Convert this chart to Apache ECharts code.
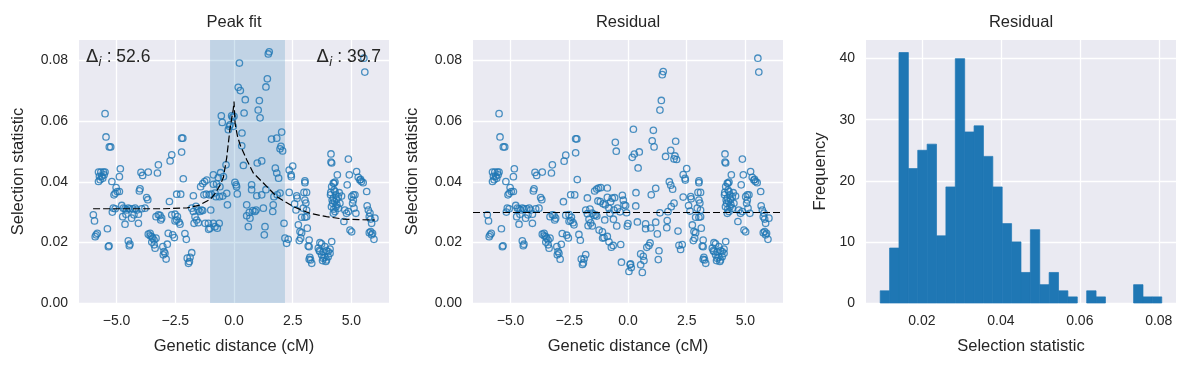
<!DOCTYPE html>
<html>
<head>
<meta charset="utf-8">
<script src="https://cdn.jsdelivr.net/npm/echarts@6/dist/echarts.min.js"></script>
<style>html,body{margin:0;padding:0;background:#fff}#c{width:1191px;height:368px}</style>
</head>
<body>
<div id="c"></div>
<script>
// ---- data ----
const distX = [
-5.99,-5.94,-5.87,-5.82,-5.91,-5.77,-5.67,-5.56,-5.49,-5.73,-5.63,-5.53,-5.77,-5.70,-5.59,-5.49,-5.45,-5.31,-5.25,-5.39,-5.35,-5.32,-5.20,-5.14,-5.18,-5.06,-5.02,-4.97,-5.06,-4.88,-5.11,
-4.84,-4.88,-4.78,-4.71,-4.64,-4.57,-4.50,-4.43,-4.31,-4.21,-4.14,-4.74,-4.60,-4.36,-4.26,-4.07,-4.07,-4.64,-4.50,-4.43,-4.46,-4.00,-4.03,-3.96,-3.89,-3.65,-3.72,-3.67,-3.93,-3.79,-3.65,-3.57,-3.50,-3.46,-3.40,-3.57,-3.50,-3.40,-3.36,-3.32,
-3.26,-3.22,-3.32,-3.22,-3.15,-3.08,-3.12,-3.03,-2.98,-2.94,-3.01,-2.89,-2.84,-2.75,-2.72,-2.65,-2.80,-2.61,-2.54,-2.65,-2.51,-2.41,-2.44,-2.51,-2.34,-2.30,-2.44,-2.27,-2.23,-2.18,-2.23,-2.16,-2.09,-2.03,
-1.80,-1.87,-1.99,-1.90,-1.94,-1.73,-1.42,-1.33,-1.25,-1.16,-1.28,-1.18,-1.06,-0.97,-1.80,-1.73,-1.62,-1.52,-1.45,-1.33,-1.66,-1.59,-1.70,-1.52,-1.38,-1.23,-1.09,-1.02,-0.88,-0.81,-0.71,-0.63,-0.99,-1.08,
-0.88,-0.81,-0.88,-0.67,-0.57,-0.45,-0.34,-0.74,-0.60,-0.77,-0.62,-0.48,-0.31,-0.28,-0.54,-0.50,-0.10,-0.06,-0.17,-0.24,-0.20,-0.03,0.00,
0.04,0.09,0.14,0.11,1.50,1.46,0.23,1.42,1.36,0.18,0.27,0.48,1.08,1.03,1.11,0.43,0.34,0.33,1.60,1.82,2.03,2.00,2.07,1.96,0.40,0.99,1.18,1.76,1.82,1.90,0.75,0.75,0.97,1.18,1.36,1.70,1.84,1.96,0.54,0.80,0.89,0.94,0.65,0.54,0.68,0.61,1.25,1.67,1.65,1.32,1.29,
2.13,2.17,2.31,2.24,2.35,2.35,2.43,2.50,2.44,2.67,2.69,2.58,2.64,2.98,3.09,3.02,3.02,3.02,3.06,2.95,3.09,2.88,3.02,3.09,2.74,2.81,2.88,2.84,2.78,3.12,3.20,3.16,3.20,3.23,3.26,3.31,3.20,3.66,3.73,3.59,3.63,3.80,3.73,3.87,3.77,3.94,4.01,4.09,4.09,4.16,3.87,3.94,3.66,3.80,3.91,4.01,
4.13,4.13,4.16,4.23,4.16,4.26,4.30,4.34,4.23,4.37,4.44,4.20,4.34,4.44,4.30,4.23,4.51,4.58,4.11,4.26,4.48,4.40,4.30,4.18,4.28,4.38,4.15,4.25,4.12,4.68,4.72,4.79,4.87,4.87,4.91,4.82,4.94,5.01,5.01,5.08,5.15,5.08,5.05,5.11,5.19,5.22,5.29,5.36,5.43,5.50,5.39,5.65,5.57,5.53,5.67,5.72,5.79,5.76,5.82,6.00,5.86,5.82,5.90,5.96,5.86,5.76
];
const stat = [
0.0291,0.0271,0.0225,0.0230,0.0219,0.0432,0.0432,0.0432,0.0432,0.0418,0.0418,0.0423,0.0401,0.0407,0.0412,0.0625,0.0548,0.0515,0.0515,0.0245,0.0186,0.0189,0.0401,0.0313,0.0300,0.0311,0.0381,0.0368,0.0362,0.0368,0.0357,
0.0443,0.0417,0.0322,0.0313,0.0311,0.0307,0.0313,0.0311,0.0311,0.0313,0.0307,0.0285,0.0293,0.0280,0.0291,0.0293,0.0263,0.0260,0.0205,0.0194,0.0189,0.0377,0.0370,0.0431,0.0421,0.0432,0.0348,0.0341,0.0311,0.0313,0.0227,0.0230,0.0219,0.0214,0.0208,0.0222,0.0201,0.0192,0.0181,0.0214,
0.0429,0.0456,0.0285,0.0291,0.0289,0.0280,0.0274,0.0186,0.0170,0.0164,0.0159,0.0145,0.0194,0.0335,0.0469,0.0489,0.0230,0.0225,0.0216,0.0291,0.0293,0.0285,0.0274,0.0271,0.0267,0.0260,0.0359,0.0359,0.0544,0.0544,0.0498,0.0410,0.0229,0.0210,
0.0166,0.0151,0.0148,0.0137,0.0131,0.0354,0.0384,0.0394,0.0401,0.0406,0.0357,0.0359,0.0357,0.0359,0.0313,0.0302,0.0319,0.0307,0.0302,0.0305,0.0285,0.0274,0.0263,0.0265,0.0307,0.0263,0.0263,0.0247,0.0263,0.0252,0.0247,0.0263,0.0307,0.0243,
0.0392,0.0363,0.0423,0.0414,0.0430,0.0417,0.0456,0.0393,0.0384,0.0351,0.0351,0.0353,0.0362,0.0324,0.0618,0.0596,0.0618,0.0613,0.0588,0.0572,0.0583,0.0583,0.0616,
0.0398,0.0390,0.0360,0.0384,0.0829,0.0822,0.0792,0.0740,0.0713,0.0712,0.0701,0.0671,0.0668,0.0637,0.0611,0.0627,0.0561,0.0519,0.0541,0.0544,0.0564,0.0517,0.0502,0.0509,0.0454,0.0462,0.0469,0.0445,0.0429,0.0412,0.0390,0.0374,0.0354,0.0357,0.0374,0.0351,0.0357,0.0363,0.0324,0.0305,0.0302,0.0307,0.0299,0.0288,0.0280,0.0252,0.0313,0.0324,0.0302,0.0252,0.0225,
0.0263,0.0214,0.0210,0.0197,0.0365,0.0439,0.0423,0.0452,0.0417,0.0354,0.0346,0.0327,0.0307,0.0365,0.0365,0.0403,0.0397,0.0340,0.0330,0.0313,0.0307,0.0283,0.0283,0.0285,0.0258,0.0236,0.0232,0.0214,0.0206,0.0247,0.0208,0.0188,0.0186,0.0151,0.0142,0.0131,0.0144,0.0199,0.0195,0.0181,0.0173,0.0170,0.0159,0.0151,0.0140,0.0142,0.0153,0.0164,0.0178,0.0203,0.0186,0.0173,0.0170,0.0148,0.0137,0.0170,
0.0492,0.0465,0.0462,0.0396,0.0384,0.0395,0.0368,0.0357,0.0346,0.0342,0.0351,0.0329,0.0318,0.0313,0.0302,0.0296,0.0329,0.0353,0.0357,0.0373,0.0364,0.0423,0.0399,0.0340,0.0335,0.0325,0.0318,0.0310,0.0365,0.0269,0.0307,0.0296,0.0302,0.0475,0.0423,0.0390,0.0241,0.0235,0.0351,0.0357,0.0357,0.0340,0.0329,0.0313,0.0296,0.0434,0.0415,0.0406,0.0401,0.0397,0.0408,0.0368,0.0762,0.0808,0.0321,0.0307,0.0297,0.0285,0.0277,0.0280,0.0263,0.0236,0.0230,0.0210,0.0225,0.0232
];
// fitted peak curve
const fitX = [-6.0,-3.0,-2.0,-1.5,-1.0,-0.8,-0.6,-0.45,-0.31,-0.17,-0.03,0.0,0.05,0.15,0.26,0.54,0.82,1.25,1.82,2.53,3.23,3.94,4.65,5.3,6.0];
const fitY = [0.0311,0.0311,0.0314,0.0322,0.0343,0.0362,0.0388,0.0415,0.0480,0.0575,0.0640,0.0665,0.0590,0.0550,0.0522,0.0473,0.0429,0.0396,0.0351,0.0318,0.0296,0.0285,0.0277,0.0275,0.0274];
const baseline = 0.0311;
const peakWindow = [-1.02, 2.17];
const deltaLeft = '52.6';
const deltaRight = '39.7';
// histogram of residuals
const histMin = 0.00943, histMax = 0.08076;
const histCounts = [2,9,41,22,25,26,11,19,40,28,29,24,19,13,10,5,12,3,5,2,1,0,2,1,0,0,0,3,1,1];
// ticks
const distTicks = [-5, -2.5, 0, 2.5, 5];
const statTicks = [0, 0.02, 0.04, 0.06, 0.08];
const histTicks = [0.02, 0.04, 0.06, 0.08];
const freqTicks = [0, 10, 20, 30, 40];

// ---- derived ----
function fitAt(x) {
  if (x <= fitX[0]) return fitY[0];
  for (let i = 1; i < fitX.length; i++) {
    if (x <= fitX[i]) {
      const t = (x - fitX[i-1]) / (fitX[i] - fitX[i-1]);
      return fitY[i-1] + t * (fitY[i] - fitY[i-1]);
    }
  }
  return fitY[fitY.length - 1];
}
const residual = stat.map((y, i) => y - Math.max(0, fitAt(distX[i]) - baseline));
const binW = (histMax - histMin) / histCounts.length;
const histData = histCounts.map((c, i) => [histMin + i * binW, histMin + (i + 1) * binW, c]);

const FONT = '"Liberation Sans", Arial, sans-serif';
const TXT = '#262626';
const BLUE = '#1f77b4';

const minusFmt = d => v => (v < 0 ? '\u2212' : '') + Math.abs(v).toFixed(d);

function axis(gridIndex, min, max, ticks, fmt, name, nameGap) {
  return {
    type: 'value', gridIndex, min, max, scale: true,
    name, nameLocation: 'middle', nameGap,
    nameTextStyle: { color: TXT, fontSize: 16.5, fontFamily: FONT },
    axisLine: { show: false },
    axisTick: { show: false, customValues: ticks },
    axisLabel: { customValues: ticks, formatter: fmt, color: TXT, fontSize: 14, fontFamily: FONT, margin: 11 },
    splitLine: { show: true, lineStyle: { color: '#ffffff', width: 1.3 } }
  };
}

const gridBase = { top: 40, height: 263, width: 310, show: true, backgroundColor: '#EAEAF2', borderWidth: 0, containLabel: false, outerBoundsMode: 'none' };

const chart = echarts.init(document.getElementById('c'), null, { renderer: 'canvas' });
chart.setOption({
  animation: false,
  backgroundColor: '#ffffff',
  grid: [
    Object.assign({ left: 79 }, gridBase),
    Object.assign({ left: 473 }, gridBase),
    Object.assign({ left: 866 }, gridBase)
  ],
  xAxis: [
    axis(0, -6.6, 6.6, distTicks, minusFmt(1), 'Genetic distance (cM)', 35),
    axis(1, -6.6, 6.6, distTicks, minusFmt(1), 'Genetic distance (cM)', 35),
    axis(2, 0.00583, 0.08437, histTicks, v => v.toFixed(2), 'Selection statistic', 35)
  ],
  yAxis: [
    axis(0, 0, 0.0868, statTicks, v => v.toFixed(2), 'Selection statistic', 52),
    axis(1, 0, 0.0868, statTicks, v => v.toFixed(2), 'Selection statistic', 52),
    axis(2, 0, 43.05, freqTicks, v => String(v), 'Frequency', 37)
  ],
  graphic: [
    { type: 'text', x: 234, y: 22, style: { text: 'Peak fit', fill: TXT, fontSize: 16.5, fontFamily: FONT, align: 'center', verticalAlign: 'middle' } },
    { type: 'text', x: 628, y: 22, style: { text: 'Residual', fill: TXT, fontSize: 16.5, fontFamily: FONT, align: 'center', verticalAlign: 'middle' } },
    { type: 'text', x: 1021, y: 22, style: { text: 'Residual', fill: TXT, fontSize: 16.5, fontFamily: FONT, align: 'center', verticalAlign: 'middle' } },
    { type: 'text', x: 86, y: 57, z: 10, style: {
      text: '{d|\u0394}{s|i}{t| : ' + deltaLeft + '}', align: 'left', verticalAlign: 'middle',
      rich: {
        d: { fill: TXT, fontSize: 18, fontFamily: '"DejaVu Sans"', lineHeight: 24, verticalAlign: 'middle' },
        s: { fill: TXT, fontSize: 12.5, fontFamily: '"DejaVu Sans"', fontStyle: 'italic', lineHeight: 24, verticalAlign: 'bottom' },
        t: { fill: TXT, fontSize: 17.5, fontFamily: FONT, lineHeight: 24, verticalAlign: 'middle' }
      } } },
    { type: 'text', x: 381, y: 57, z: 10, style: {
      text: '{d|\u0394}{s|i}{t| : ' + deltaRight + '}', align: 'right', verticalAlign: 'middle',
      rich: {
        d: { fill: TXT, fontSize: 18, fontFamily: '"DejaVu Sans"', lineHeight: 24, verticalAlign: 'middle' },
        s: { fill: TXT, fontSize: 12.5, fontFamily: '"DejaVu Sans"', fontStyle: 'italic', lineHeight: 24, verticalAlign: 'bottom' },
        t: { fill: TXT, fontSize: 17.5, fontFamily: FONT, lineHeight: 24, verticalAlign: 'middle' }
      } } }
  ],
  series: [
    {
      type: 'scatter', xAxisIndex: 0, yAxisIndex: 0,
      data: distX.map((x, i) => [x, stat[i]]),
      symbol: 'circle', symbolSize: 6.4,
      itemStyle: { color: 'rgba(0,0,0,0)', borderColor: BLUE, borderWidth: 1.3 },
      markArea: {
        silent: true,
        itemStyle: { color: 'rgba(31,119,180,0.2)' },
        data: [[{ xAxis: peakWindow[0] }, { xAxis: peakWindow[1] }]]
      },
      z: 2
    },
    {
      type: 'line', xAxisIndex: 0, yAxisIndex: 0,
      data: fitX.map((x, i) => [x, fitY[i]]),
      showSymbol: false, symbol: 'none',
      lineStyle: { color: '#000000', width: 1.2, type: [7, 3] },
      z: 3
    },
    {
      type: 'scatter', xAxisIndex: 1, yAxisIndex: 1,
      data: distX.map((x, i) => [x, residual[i]]),
      symbol: 'circle', symbolSize: 6.4,
      itemStyle: { color: 'rgba(0,0,0,0)', borderColor: BLUE, borderWidth: 1.3 },
      markLine: {
        silent: true, symbol: ['none', 'none'], label: { show: false },
        lineStyle: { color: '#000000', width: 1.2, type: [7, 3] },
        data: [{ yAxis: baseline }]
      }
    },
    {
      type: 'custom', xAxisIndex: 2, yAxisIndex: 2,
      data: histData,
      encode: { x: [0, 1], y: 2 },
      renderItem: function (params, api) {
        const p0 = api.coord([api.value(0), api.value(2)]);
        const p1 = api.coord([api.value(1), 0]);
        return { type: 'rect', shape: { x: p0[0], y: p0[1], width: p1[0] - p0[0], height: p1[1] - p0[1] },
                 style: { fill: BLUE, stroke: api.value(2) > 0 ? BLUE : null, lineWidth: 0.7 } };
      }
    }
  ]
});
</script>
</body>
</html>
